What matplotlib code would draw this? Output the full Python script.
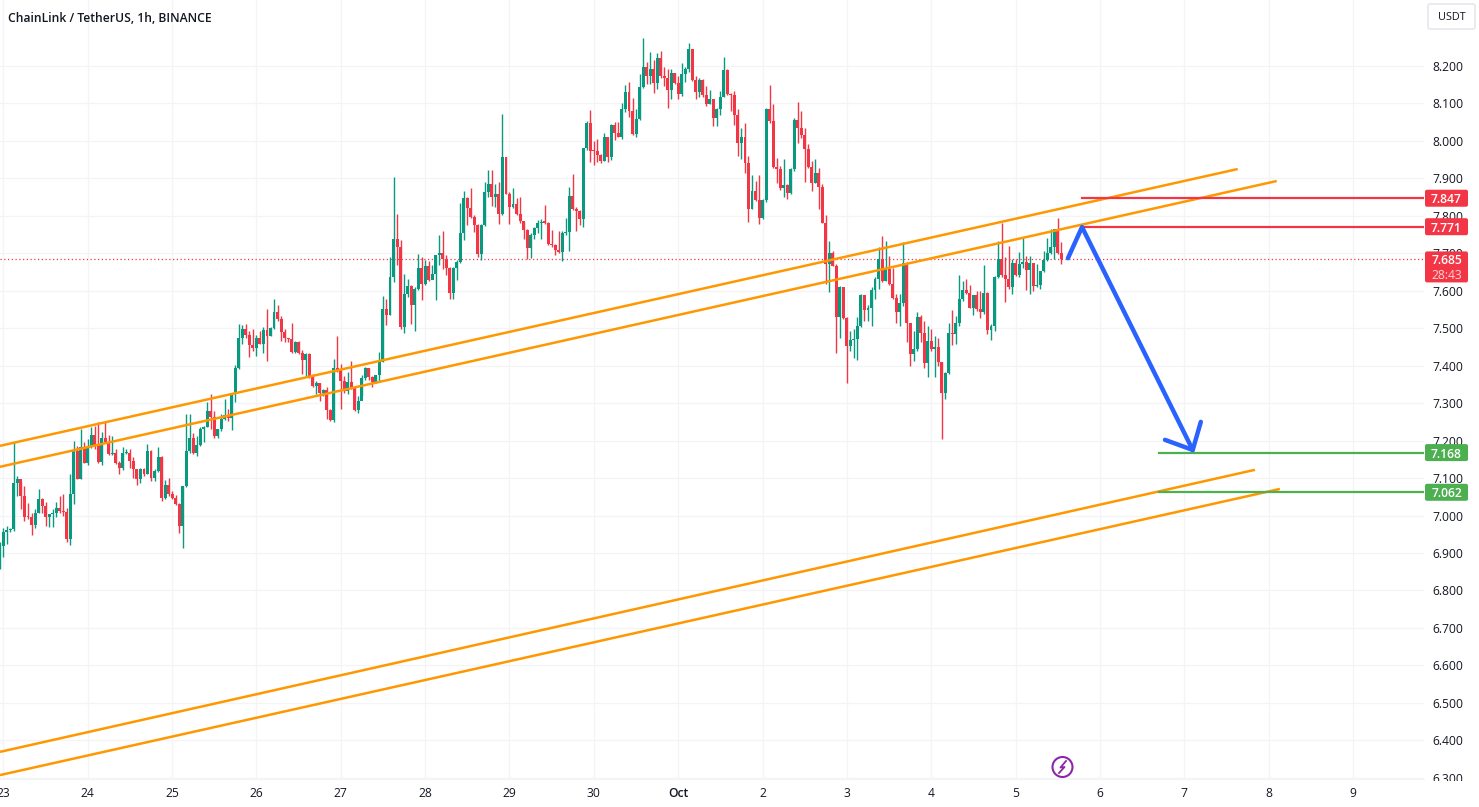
import matplotlib
matplotlib.use("Agg")
import matplotlib.pyplot as plt
from matplotlib.patches import FancyBboxPatch, Circle
from matplotlib.transforms import IdentityTransform, Bbox
from matplotlib.lines import Line2D

closes = [6.919,6.955,6.962,6.963,7.086,7.097,7.051,6.997,6.995,6.975,7.008,7.044,7.026,6.995,7.004,7.006,7.021,7.011,7.009,6.937,
7.057,7.173,7.097,7.184,7.141,7.184,7.214,7.189,7.143,7.206,7.195,7.164,7.166,7.141,7.128,7.166,7.168,7.146,7.124,7.097,
7.125,7.112,7.171,7.099,7.119,7.155,7.048,7.081,7.057,7.048,7.030,6.972,7.079,7.173,7.206,7.166,7.189,7.230,7.235,7.278,
7.262,7.211,7.230,7.257,7.268,7.259,7.328,7.395,7.475,7.497,7.481,7.456,7.447,7.473,7.457,7.495,7.478,7.500,7.544,7.524,
7.491,7.473,7.472,7.437,7.462,7.435,7.415,7.431,7.373,7.346,7.353,7.327,7.336,7.282,7.255,7.395,7.386,7.360,7.333,7.357,
7.342,7.282,7.306,7.367,7.394,7.370,7.357,7.374,7.410,7.552,7.534,7.637,7.737,7.717,7.503,7.592,7.613,7.561,7.606,7.661,
7.617,7.666,7.628,7.646,7.695,7.701,7.686,7.661,7.595,7.661,7.677,7.753,7.848,7.821,7.797,7.775,7.697,7.775,7.864,7.885,
7.851,7.859,7.806,7.957,7.859,7.824,7.831,7.806,7.785,7.761,7.715,7.750,7.768,7.781,7.783,7.782,7.726,7.721,7.708,7.703,
7.754,7.757,7.853,7.817,7.812,7.791,7.981,8.049,7.973,7.972,7.962,7.947,8.011,7.957,8.042,8.022,8.011,8.086,8.131,8.080,
8.018,8.058,8.145,8.197,8.173,8.193,8.154,8.222,8.172,8.168,8.136,8.181,8.154,8.124,8.178,8.193,8.245,8.163,8.131,8.163,
8.122,8.098,8.113,8.062,8.084,8.118,8.189,8.124,8.122,8.068,7.995,8.011,7.940,7.819,7.865,7.841,7.795,7.841,8.086,8.052,
7.930,7.926,7.873,7.881,7.862,7.924,8.056,8.035,8.015,7.979,7.931,7.889,7.915,7.878,7.782,7.671,7.700,7.667,7.529,7.611,
7.526,7.453,7.468,7.471,7.505,7.588,7.549,7.553,7.602,7.631,7.685,7.627,7.658,7.618,7.580,7.544,7.567,7.674,7.514,7.431,
7.444,7.531,7.487,7.406,7.465,7.444,7.449,7.409,7.327,7.380,7.486,7.484,7.515,7.578,7.602,7.593,7.555,7.588,7.551,7.544,
7.595,7.496,7.505,7.637,7.686,7.642,7.631,7.611,7.673,7.642,7.671,7.676,7.656,7.673,7.612,7.615,7.652,7.683,7.700,7.716,
7.766,7.700,7.685]

highs = [6.928,6.968,6.971,6.968,7.197,7.106,7.093,7.079,7.033,7.008,7.017,7.070,7.048,7.035,7.004,7.017,7.035,7.052,7.057,7.021,
7.110,7.199,7.186,7.230,7.195,7.204,7.235,7.239,7.250,7.222,7.250,7.214,7.213,7.177,7.146,7.182,7.177,7.177,7.155,7.125,
7.128,7.128,7.192,7.175,7.124,7.183,7.159,7.094,7.099,7.066,7.054,7.033,7.079,7.272,7.272,7.220,7.213,7.235,7.239,7.302,
7.324,7.279,7.230,7.271,7.312,7.284,7.328,7.401,7.511,7.508,7.511,7.493,7.499,7.481,7.493,7.502,7.551,7.502,7.578,7.562,
7.533,7.499,7.475,7.513,7.466,7.466,7.442,7.435,7.433,7.377,7.359,7.355,7.339,7.342,7.284,7.417,7.478,7.404,7.373,7.382,
7.413,7.346,7.319,7.375,7.397,7.394,7.372,7.374,7.437,7.586,7.577,7.690,7.904,7.806,7.735,7.646,7.632,7.615,7.610,7.699,
7.690,7.681,7.679,7.668,7.696,7.748,7.760,7.695,7.664,7.664,7.681,7.833,7.866,7.850,7.873,7.803,7.777,7.779,7.891,7.923,
7.923,7.886,7.891,8.073,7.957,7.864,7.873,7.848,7.850,7.784,7.766,7.753,7.770,7.788,7.791,7.828,7.784,7.761,7.726,7.759,
7.759,7.793,7.877,7.913,7.824,7.815,7.981,8.052,8.082,7.999,8.006,7.966,8.022,8.011,8.044,8.051,8.051,8.100,8.148,8.156,
8.114,8.086,8.178,8.276,8.212,8.238,8.216,8.234,8.240,8.196,8.191,8.191,8.182,8.173,8.209,8.197,8.261,8.245,8.173,8.169,
8.166,8.147,8.136,8.111,8.089,8.133,8.224,8.193,8.129,8.133,8.084,8.035,8.049,7.960,7.908,7.893,7.908,7.846,8.089,8.148,
8.098,7.955,7.933,7.953,7.884,7.929,8.062,8.104,8.080,8.035,7.991,7.946,7.953,7.929,7.884,7.801,7.733,7.707,7.671,7.613,
7.611,7.529,7.493,7.498,7.529,7.591,7.588,7.562,7.609,7.636,7.716,7.745,7.733,7.693,7.662,7.591,7.591,7.731,7.676,7.515,
7.493,7.542,7.535,7.520,7.506,7.498,7.480,7.475,7.409,7.382,7.515,7.548,7.533,7.642,7.627,7.631,7.615,7.588,7.600,7.600,
7.668,7.597,7.511,7.640,7.733,7.781,7.689,7.720,7.686,7.686,7.704,7.742,7.693,7.693,7.671,7.671,7.653,7.707,7.740,7.765,
7.766,7.793,7.729]

lows = [6.857,6.888,6.923,6.955,6.959,7.052,7.017,6.986,6.990,6.947,6.968,7.006,7.008,6.972,6.970,6.970,6.995,7.008,6.999,6.928,
6.921,7.030,7.097,7.097,7.141,7.135,7.181,7.177,7.140,7.135,7.195,7.161,7.161,7.137,7.110,7.122,7.164,7.128,7.099,7.081,
7.088,7.106,7.110,7.093,7.093,7.115,7.039,7.044,7.052,7.044,7.028,6.953,6.912,7.075,7.168,7.164,7.158,7.186,7.195,7.235,
7.230,7.208,7.208,7.226,7.255,7.253,7.229,7.302,7.391,7.457,7.475,7.422,7.440,7.426,7.457,7.435,7.413,7.478,7.497,7.520,
7.466,7.462,7.462,7.435,7.435,7.431,7.379,7.371,7.368,7.342,7.324,7.306,7.319,7.257,7.253,7.250,7.382,7.284,7.328,7.324,
7.337,7.279,7.275,7.320,7.361,7.361,7.343,7.355,7.357,7.410,7.508,7.534,7.624,7.668,7.499,7.488,7.583,7.512,7.493,7.601,
7.575,7.615,7.625,7.632,7.576,7.668,7.659,7.641,7.579,7.577,7.628,7.673,7.735,7.775,7.793,7.757,7.690,7.681,7.773,7.851,
7.826,7.824,7.777,7.801,7.857,7.777,7.821,7.803,7.782,7.737,7.686,7.688,7.737,7.753,7.739,7.779,7.723,7.717,7.695,7.702,
7.679,7.748,7.705,7.815,7.759,7.775,7.769,7.975,7.944,7.935,7.944,7.942,7.946,7.944,7.948,8.002,8.011,8.006,8.076,8.065,
8.015,8.011,8.056,8.142,8.151,8.151,8.129,8.138,8.169,8.147,8.087,8.111,8.151,8.111,8.120,8.156,8.184,8.160,8.111,8.118,
8.116,8.093,8.098,8.040,8.040,8.068,8.116,8.123,8.080,8.042,7.960,7.953,7.914,7.784,7.817,7.840,7.779,7.791,7.837,8.049,
7.929,7.887,7.869,7.849,7.844,7.857,7.920,7.995,8.009,7.890,7.929,7.866,7.887,7.819,7.782,7.618,7.597,7.665,7.434,7.475,
7.524,7.355,7.440,7.420,7.416,7.502,7.520,7.520,7.505,7.578,7.606,7.624,7.627,7.615,7.578,7.514,7.507,7.560,7.462,7.400,
7.413,7.440,7.464,7.393,7.370,7.440,7.370,7.400,7.204,7.311,7.377,7.455,7.459,7.506,7.573,7.591,7.553,7.535,7.547,7.526,
7.538,7.484,7.469,7.493,7.633,7.636,7.569,7.606,7.591,7.640,7.636,7.662,7.603,7.591,7.600,7.609,7.604,7.649,7.680,7.698,
7.686,7.698,7.671]

first_open = 6.889
first_hour = -1
last_price = 7.685
countdown = "28:43"

day_labels = ["23","24","25","26","27","28","29","30","Oct","2","3","4","5","6","7","8","9"]
price_ticks = [6.3,6.4,6.5,6.6,6.7,6.8,6.9,7.0,7.1,7.2,7.3,7.4,7.5,7.6,7.7,7.8,7.9,8.0,8.1,8.2]

channel_hours = [[-1,351.2],[-1,362.3],[-1,356.1],[-1,363.2]]
channel_prices = [[7.186,7.925],[7.130,7.893],[6.369,7.122],[6.307,7.071]]

resistance_levels = [7.847,7.771]
support_levels = [7.168,7.062]
resistance_start = 306.9
support_start = 328.9

path_hours = [302.9,306.9,338.4]
path_prices = [7.687,7.770,7.175]
head_hours = [330.5,338.4,340.7]
head_prices = [7.202,7.175,7.250]

GREEN = "#089981"; RED = "#F23645"; ORANGE = "#FF9800"; BLUE = "#2962FF"; LGREEN = "#4CAF50"
TXT = "#131722"; GRID = "#F3F4F6"
FONT = "Open Sans"

W, H = 1479, 807
fig = plt.figure(figsize=(W/100, H/100), dpi=100, facecolor="white")
AX_R, AX_B = 1424, 778.5
ax = fig.add_axes([0, (H-AX_B)/H, AX_R/W, AX_B/H])
px_per_hour = 84.35/24
ax.set_xlim(-3.4/px_per_hour, (AX_R-3.4)/px_per_hour)
ax.set_ylim(8.2-(AX_B-66)/374.6, 8.2+66/374.6)
ax.set_axisbelow(True)

opens = [first_open] + closes[:-1]
hours = [first_hour+i for i in range(len(closes))]
cols = [GREEN if c >= o else RED for o, c in zip(opens, closes)]
ax.vlines(hours, lows, highs, colors=cols, linewidth=1.0, zorder=3)
min_h = 0.003
ax.bar(hours, [max(abs(c-o), min_h) for o, c in zip(opens, closes)],
       bottom=[min(o, c) for o, c in zip(opens, closes)],
       width=0.84, color=cols, linewidth=0, zorder=3)

for hs, ps in zip(channel_hours, channel_prices):
    ax.plot(hs, ps, color=ORANGE, lw=1.8, zorder=4, solid_capstyle="butt")

ax.axhline(last_price, color=RED, lw=0.9, ls=(0,(1,2)), zorder=2)
xmax = ax.get_xlim()[1]
for v in resistance_levels:
    ax.plot([resistance_start, xmax], [v, v], color=RED, lw=1.6, zorder=4)
for v in support_levels:
    ax.plot([support_start, xmax], [v, v], color=LGREEN, lw=1.6, zorder=4)

ax.plot(path_hours, path_prices, color=BLUE, lw=3.2, zorder=5, solid_capstyle="round", solid_joinstyle="round")
ax.plot(head_hours, head_prices, color=BLUE, lw=3.2, zorder=5, solid_capstyle="round", solid_joinstyle="round")

ax.set_xticks([24*i for i in range(len(day_labels))])
ax.set_xticklabels(day_labels, fontname=FONT, fontsize=8.7, color=TXT)
for lab in ax.get_xticklabels():
    if lab.get_text() == "Oct":
        lab.set_fontweight("semibold")
ax.yaxis.tick_right()
ax.set_yticks(price_ticks)
ax.set_yticklabels([f"{v:.3f}" for v in price_ticks], fontname=FONT, fontsize=8.7, color=TXT)
ax.tick_params(axis="both", length=0)
ax.tick_params(axis="x", pad=6)
ax.tick_params(axis="y", pad=6)
ax.grid(True, color=GRID, lw=0.9)
for s in ax.spines.values():
    s.set_visible(False)
ax.spines["bottom"].set_visible(True); ax.spines["bottom"].set_color(GRID); ax.spines["bottom"].set_linewidth(0.8)

# the bottom price label is cut by the edge of the pane
for lab in ax.get_yticklabels():
    if lab.get_text() == "6.300":
        lab.set_clip_box(Bbox([[1424, H-781], [W, H]]))
        lab.set_clip_on(True)

def box(x0, ytop, x1, ybot, fc, ec="none", lw=0):
    p = FancyBboxPatch((x0+1.5, H-ybot+1.5), x1-x0-3, ybot-ytop-3, boxstyle="round,pad=1.5,rounding_size=2",
                       fc=fc, ec=ec, lw=lw, transform=IdentityTransform(), clip_on=False, zorder=10)
    ax.add_patch(p)

def level_tag(v, col):
    yc = H - ax.transData.transform((0, v))[1]
    box(1425, yc-8.5, 1468, yc+8.5, col)
    ax.text(1446.5, H-yc, f"{v:.3f}", color="white", fontname=FONT, fontsize=8.7, fontweight="semibold",
            ha="center", va="center_baseline", transform=IdentityTransform(), zorder=11)

for v in resistance_levels:
    level_tag(v, RED)
for v in support_levels:
    level_tag(v, LGREEN)

yc = H - ax.transData.transform((0, last_price))[1]
box(1425, yc-7.5, 1468, yc+23.5, RED)
ax.text(1446.5, H-yc, f"{last_price:.3f}", color="white", fontname=FONT, fontsize=8.7, fontweight="semibold",
        ha="center", va="center_baseline", transform=IdentityTransform(), zorder=11)
ax.text(1446.5, H-yc-15, countdown, color="#FFD5D9", fontname=FONT, fontsize=8.7,
        ha="center", va="center_baseline", transform=IdentityTransform(), zorder=11)

box(1428, 4, 1475, 29, "white", ec="#E6E8EC", lw=1.2)
ax.text(1451.5, H-16.5, "USDT", color=TXT, fontname=FONT, fontsize=7.8,
        ha="center", va="center_baseline", transform=IdentityTransform(), zorder=11)

fig.text(8/W, 1-16.5/H, "ChainLink / TetherUS, 1h, BINANCE", fontname=FONT, fontsize=8.75, fontweight="semibold",
         color=TXT, ha="left", va="center_baseline")

# lightning badge
PURPLE = "#8E24AA"
ax.add_patch(Circle((1062.5, H-767), 10, fc="white", ec=PURPLE, lw=1.5, transform=IdentityTransform(), zorder=6))
ax.add_line(Line2D([1066, 1060.5, 1064.5, 1059], [H-761, H-767.5, H-767, H-773], color=PURPLE, lw=1.3,
                   transform=IdentityTransform(), zorder=7))

fig.savefig("out.png", dpi=100, facecolor="white")
